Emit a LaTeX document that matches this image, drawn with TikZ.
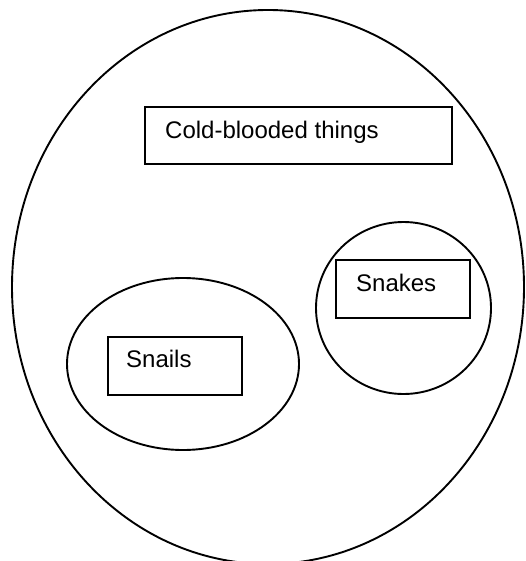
\documentclass[tikz,border=0pt]{standalone}
\usepackage{fontspec}
\setmainfont{Liberation Sans}
\usetikzlibrary{shapes.geometric}
\begin{document}
\begin{tikzpicture}[x=1pt,y=-1pt,
  setshape/.style={draw=black, line width=1.9pt, ellipse, inner sep=0pt},
  labelbox/.style={draw=black, line width=2pt, rectangle, inner sep=0pt},
  labeltext/.style={anchor=base west, inner sep=0pt, font=\fontsize{24}{28}\selectfont}]
\useasboundingbox (0,0) rectangle (525,561);
\clip (0,0) rectangle (525,561);
\node[setshape, minimum width=512, minimum height=554] (all) at (268,287) {};
\node[setshape, minimum width=232, minimum height=172] (snailset) at (183,364) {};
\node[setshape, minimum width=175, minimum height=172] (snakeset) at (403.5,308) {};
\node[labelbox, minimum width=307, minimum height=57] (coldbox) at (298.5,135.5) {};
\node[labelbox, minimum width=134, minimum height=58] (snailbox) at (175,366) {};
\node[labelbox, minimum width=134, minimum height=58] (snakebox) at (403,289) {};
\node[labeltext] (coldtext) at (165,139) {Cold-blooded things};
\node[labeltext] (snailtext) at (126,367) {Snails};
\node[labeltext] (snaketext) at (356,291) {Snakes};
\end{tikzpicture}
\end{document}
